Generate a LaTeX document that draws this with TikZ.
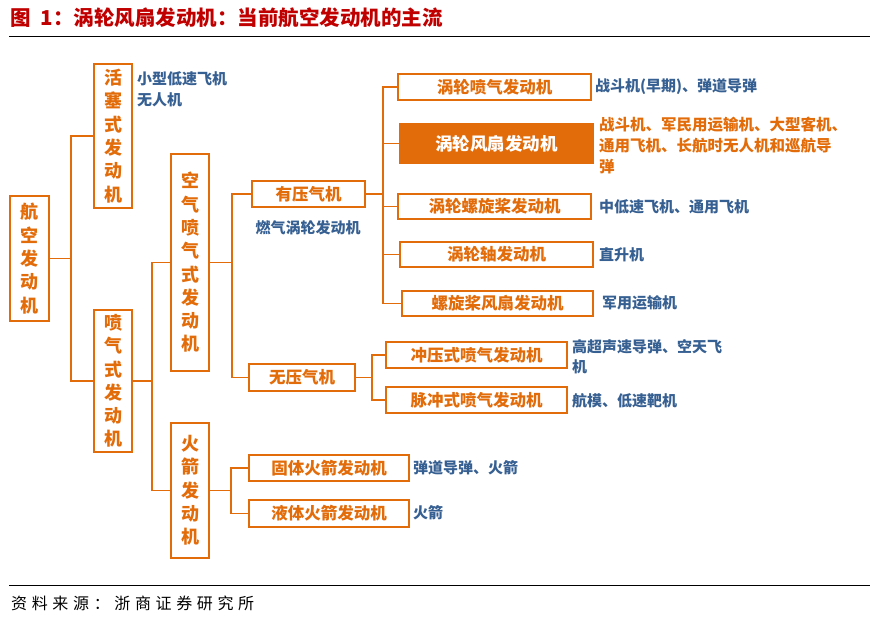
\documentclass[tikz,border=0pt]{standalone}
\usepackage{fontspec}
\setmainfont{Noto Sans CJK SC}
\usepackage{xcolor}
\usepackage{tikz}
\definecolor{engOrange}{HTML}{E36C0A}
\definecolor{engBlue}{HTML}{376092}
\definecolor{engRed}{HTML}{C00000}

\begin{document}
\begin{tikzpicture}[
    x=1pt, y=-1pt,
    box/.style={draw=engOrange, line width=1.6pt, fill=white, text=engOrange, inner sep=0pt, align=center, font=\bfseries\fontsize{16.5}{18}\selectfont},
    vbox/.style={box, font=\bfseries\fontsize{18}{23.3}\selectfont},
    mainbox/.style={box, fill=engOrange, text=white, font=\bfseries\fontsize{17.5}{19}\selectfont},
    link/.style={draw=engOrange, line width=1.6pt},
    use/.style={anchor=west, inner sep=0pt, align=left, text=engBlue, font=\bfseries\fontsize{15}{21}\selectfont},
    rule/.style={draw=black, line width=1pt}
]
\useasboundingbox (0,0) rectangle (877,620);

% title and rules
\node[anchor=west, inner sep=0pt, text=engRed, font=\bfseries\fontsize{20.5}{22}\selectfont] (title) at (10,18) {图\enspace 1：涡轮风扇发动机：当前航空发动机的主流};
\draw[rule] (9,37) -- (870,37);
\draw[rule] (9,585) -- (870,585);
\node[anchor=west, inner sep=0pt, font=\fontsize{16}{18}\addfontfeatures{LetterSpace=29}\selectfont] (source) at (11,603) {资料来源：浙商证券研究所};

% level 1 and 2
\node[vbox, minimum width=39, minimum height=125] (aero) at (29.5,258.5) {航\\空\\发\\动\\机};
\node[vbox, minimum width=38, minimum height=144] (piston) at (113,136) {活\\塞\\式\\发\\动\\机};
\node[vbox, minimum width=38, minimum height=142] (jet) at (113,381) {喷\\气\\式\\发\\动\\机};
\node[use] (pistonuse) at (137,89.5) {小型低速飞机\\无人机};

% level 3
\node[vbox, minimum width=38, minimum height=217] (air) at (190,262.5) {空\\气\\喷\\气\\式\\发\\动\\机};
\node[vbox, minimum width=38, minimum height=135] (rocket) at (190,490.5) {火\\箭\\发\\动\\机};

% level 4
\node[box, minimum width=113, minimum height=26] (wcomp) at (308.5,194) {有压气机};
\node[use, anchor=center] (gasturb) at (308,228) {燃气涡轮发动机};
\node[box, minimum width=106, minimum height=27] (ncomp) at (302,377.5) {无压气机};
\node[box, minimum width=160, minimum height=26] (solid) at (329,468) {固体火箭发动机};
\node[box, minimum width=160, minimum height=27] (liquid) at (329,513.5) {液体火箭发动机};

% level 5
\node[box, minimum width=193, minimum height=26] (tj) at (494.5,87) {涡轮喷气发动机};
\node[mainbox, minimum width=193, minimum height=39] (tf) at (496.5,143.5) {涡轮风扇发动机};
\node[box, minimum width=193, minimum height=25] (tp) at (494.5,206.5) {涡轮螺旋桨发动机};
\node[box, minimum width=193, minimum height=25] (ts) at (496.5,254.5) {涡轮轴发动机};
\node[box, minimum width=191, minimum height=25] (pf) at (497.5,303.5) {螺旋桨风扇发动机};
\node[box, minimum width=181, minimum height=26] (ram) at (476.5,355) {冲压式喷气发动机};
\node[box, minimum width=181, minimum height=26] (pulse) at (476.5,400) {脉冲式喷气发动机};

% applications
\node[use] (tjuse) at (595,87) {战斗机(早期)、弹道导弹};
\node[use, text=engOrange, font=\bfseries\fontsize{15.5}{21}\selectfont] (tfuse) at (599,146) {战斗机、军民用运输机、大型客机、\\通用飞机、长航时无人机和巡航导\\弹};
\node[use] (tpuse) at (599,207) {中低速飞机、通用飞机};
\node[use] (tsuse) at (599,255) {直升机};
\node[use] (pfuse) at (602,303) {军用运输机};
\node[use, font=\bfseries\fontsize{15}{20}\selectfont] (ramuse) at (572,357) {高超声速导弹、空天飞\\机};
\node[use] (pulseuse) at (572,401) {航模、低速靶机};
\node[use] (soliduse) at (413,468) {弹道导弹、火箭};
\node[use] (liquiduse) at (413,513) {火箭};

% connectors
\draw[link] (aero.east) -- ++(21,0) |- (piston.west);
\draw[link] (aero.east) -- ++(21,0) |- (jet.west);
\draw[link] (jet.east) -- ++(19,0) |- (air.west);
\draw[link] (jet.east) -- ++(19,0) |- (rocket.west);
\draw[link] (air.east) -- ++(22,0) |- (wcomp.west);
\draw[link] (air.east) -- ++(22,0) |- (ncomp.west);
\draw[link] (rocket.east) -- ++(21,0) |- (solid.west);
\draw[link] (rocket.east) -- ++(21,0) |- (liquid.west);
\draw[link] (wcomp.east) -- ++(17,0) |- (tj.west);
\draw[link] (wcomp.east) -- ++(17,0) |- (tf.west);
\draw[link] (wcomp.east) -- ++(17,0) |- (tp.west);
\draw[link] (wcomp.east) -- ++(17,0) |- (ts.west);
\draw[link] (wcomp.east) -- ++(17,0) |- (pf.west);
\draw[link] (ncomp.east) -- ++(16,0) |- (ram.west);
\draw[link] (ncomp.east) -- ++(16,0) |- (pulse.west);

\end{tikzpicture}
\end{document}
